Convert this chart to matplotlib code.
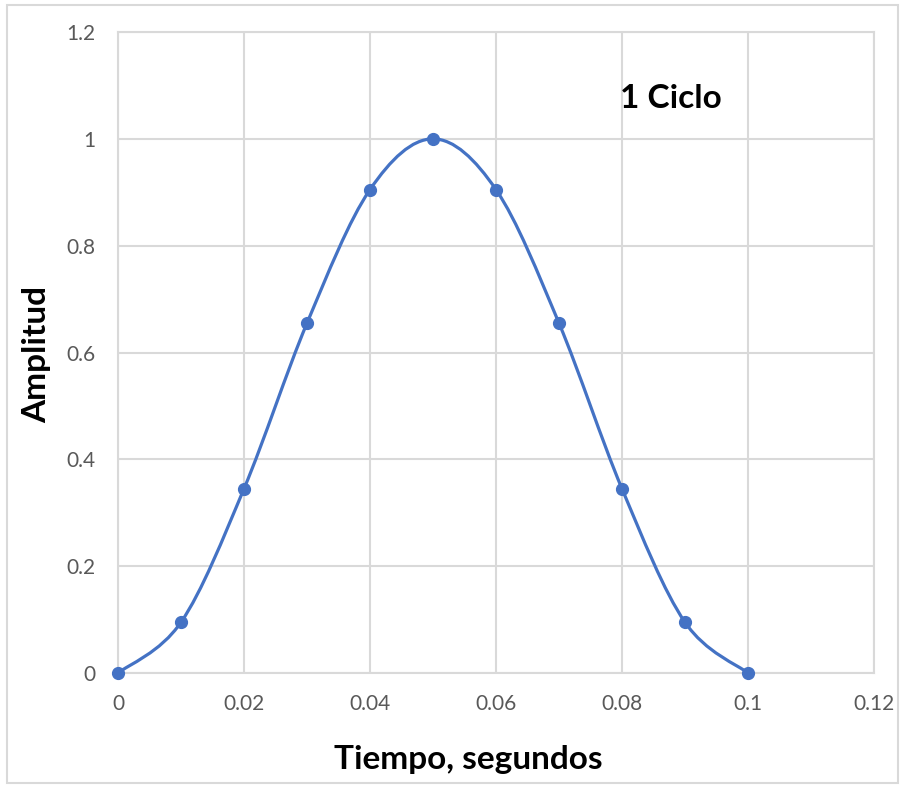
import numpy as np
import matplotlib.pyplot as plt
from matplotlib.path import Path
from matplotlib.patches import PathPatch, Rectangle

# Data (one cycle)
tiempo = [0.0, 0.01, 0.02, 0.03, 0.04, 0.05, 0.06, 0.07, 0.08, 0.09, 0.10]
amplitud = [0.0, 0.095, 0.345, 0.655, 0.905, 1.0, 0.905, 0.655, 0.345, 0.095, 0.0]
x_ticks = [0, 0.02, 0.04, 0.06, 0.08, 0.1, 0.12]
x_labels = ["0", "0.02", "0.04", "0.06", "0.08", "0.1", "0.12"]
y_ticks = [0, 0.2, 0.4, 0.6, 0.8, 1.0, 1.2]
y_labels = ["0", "0.2", "0.4", "0.6", "0.8", "1", "1.2"]

blue = "#4472C4"
grid_c = "#D9D9D9"
tick_c = "#595959"
plt.rcParams['font.family'] = ['Lato', 'DejaVu Sans']


# Excel-style smoothed line: cubic Bezier through the points
def smooth_path(xs, ys):
    pts = np.column_stack([xs, ys])
    n = len(pts)
    verts = [pts[0]]
    codes = [Path.MOVETO]
    for i in range(n - 1):
        p0 = pts[max(i - 1, 0)]
        p1 = pts[i]
        p2 = pts[i + 1]
        p3 = pts[min(i + 2, n - 1)]
        c1 = p1 + (p2 - p0) / 6.0
        c2 = p2 - (p3 - p1) / 6.0
        verts += [c1, c2, p2]
        codes += [Path.CURVE4] * 3
    return Path(verts, codes)


fig = plt.figure(figsize=(9.05, 7.85), dpi=100)
ax = fig.add_axes([0.1304, 0.1427, 0.8353, 0.8165])

ax.add_patch(PathPatch(smooth_path(tiempo, amplitud), facecolor="none",
                       edgecolor=blue, linewidth=2.3, zorder=3))
ax.plot(tiempo, amplitud, linestyle="none", marker="o", markersize=8.5,
        color=blue, zorder=4, clip_on=False)

ax.set_xlim(0, 0.12)
ax.set_ylim(0, 1.2)
ax.set_xticks(x_ticks)
ax.set_xticklabels(x_labels)
ax.set_yticks(y_ticks)
ax.set_yticklabels(y_labels)
ax.grid(True, color=grid_c, linewidth=1.5)
ax.set_axisbelow(True)
for s in ax.spines.values():
    s.set_color(grid_c)
    s.set_linewidth(1.5)
ax.tick_params(length=0, labelsize=15, labelcolor=tick_c)
ax.tick_params(axis="x", pad=15)
ax.tick_params(axis="y", pad=16)

ax.text(0.0878, 1.075, "1 Ciclo", fontsize=24, fontweight="bold",
        ha="center", va="center", color="black")

fig.text(0.517, 0.032, "Tiempo, segundos", fontsize=24, fontweight="bold",
         ha="center", va="center")
fig.text(0.040, 0.548, "Amplitud", fontsize=24, fontweight="bold",
         ha="center", va="center", rotation=90)

# light frame around the chart area
fig.patches.append(Rectangle((0.008, 0.003), 0.984, 0.99, transform=fig.transFigure,
                             fill=False, edgecolor=grid_c, linewidth=1.5))

fig.savefig("out.png", dpi=100)
